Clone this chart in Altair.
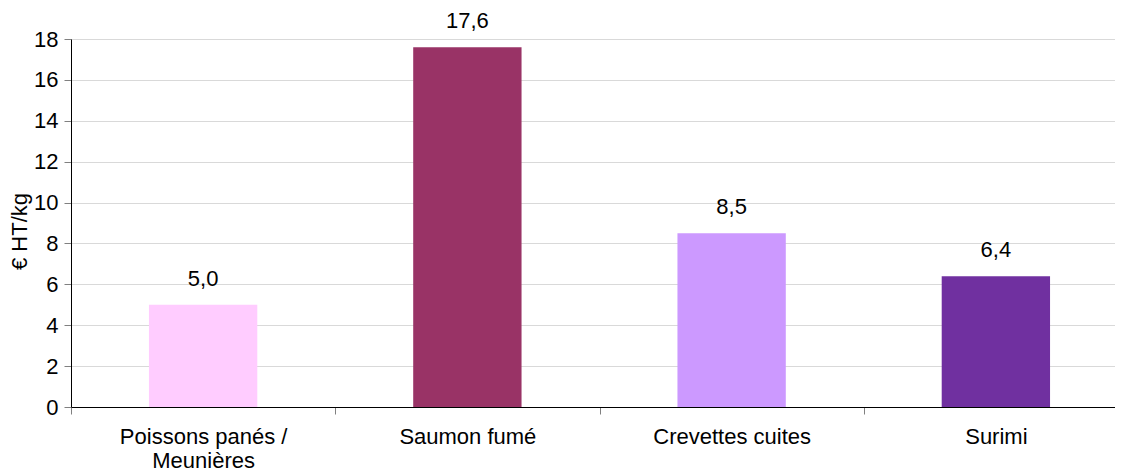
import altair as alt
import pandas as pd

categories = ["Poissons panés /|Meunières", "Saumon fumé", "Crevettes cuites", "Surimi"]
values = [5.0, 17.6, 8.5, 6.4]
colors = ["#FFCCFF", "#993366", "#CC99FF", "#7030A0"]
y_ticks = [0, 2, 4, 6, 8, 10, 12, 14, 16, 18]

df = pd.DataFrame({"cat": categories, "val": values, "col": colors})

FONT = "Liberation Sans"
FS = 22

x_enc = alt.X(
    "cat:N",
    sort=categories,
    scale=alt.Scale(paddingInner=0, paddingOuter=0, range=[0, 1057]),
    axis=alt.Axis(
        title=None,
        labelExpr="split(datum.label, '|')",
        labelAngle=0,
        labelFont=FONT,
        labelFontSize=FS,
        labelColor="#000000",
        labelPadding=12,
        labelLineHeight=24,
        domainColor="#000000",
        tickColor="#808080",
        tickSize=7,
        tickBand="extent",
    ),
)

y_enc = alt.Y(
    "val:Q",
    scale=alt.Scale(domain=[0, 18], nice=False),
    axis=alt.Axis(
        title="€ HT/kg",
        titleFont=FONT,
        titleFontSize=FS,
        titleFontWeight="normal",
        titleColor="#000000",
        titlePadding=2,
        titleY=192,
        values=y_ticks,
        labelFont=FONT,
        labelFontSize=FS,
        labelColor="#000000",
        labelPadding=6,
        domainColor="#000000",
        tickColor="#808080",
        tickSize=7,
        gridColor="#D9D9D9",
        grid=True,
    ),
)

bars = alt.Chart(df).mark_bar(width={"band": 0.41}).encode(
    x=x_enc,
    y=y_enc,
    color=alt.Color("col:N", scale=None),
)

labels = alt.Chart(df).transform_calculate(
    lab="replace(format(datum.val, '.1f'), '.', ',')"
).mark_text(
    font=FONT, fontSize=FS, color="#000000", baseline="alphabetic", dy=-19
).encode(
    x=alt.X("cat:N", sort=categories),
    y=alt.Y("val:Q"),
    text="lab:N",
)

chart = alt.layer(bars, labels).properties(
    width=1044,
    height=368,
    autosize=alt.AutoSizeParams(type="none"),
    padding={"left": 63, "top": 31, "right": 0, "bottom": 67},
).configure_view(stroke=None)

chart.save("out.html", embed_options={"renderer": "svg", "actions": False})
